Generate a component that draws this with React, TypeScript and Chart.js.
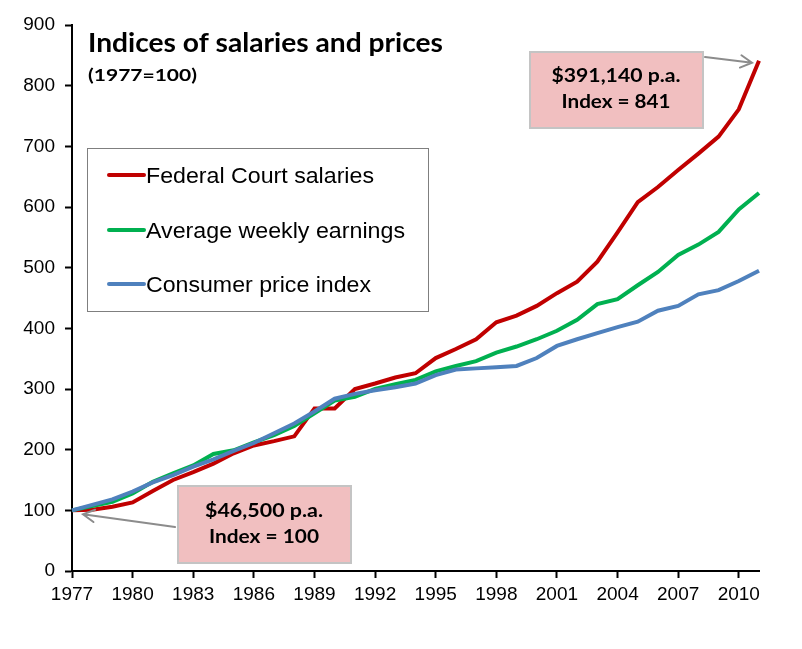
import React, { useEffect, useRef } from "react";
import { Chart, registerables } from "chart.js";

Chart.register(...registerables);

const years: string[] = [
  "1977", "1978", "1979", "1980", "1981", "1982", "1983", "1984", "1985", "1986",
  "1987", "1988", "1989", "1990", "1991", "1992", "1993", "1994", "1995", "1996",
  "1997", "1998", "1999", "2000", "2001", "2002", "2003", "2004", "2005", "2006",
  "2007", "2008", "2009", "2010", "2011",
];

const federalCourt: number[] = [
  100, 101, 106, 113, 132, 150, 163, 177, 194, 207,
  214, 222, 268, 268, 300, 309, 319, 326, 351, 366,
  382, 410, 421, 437, 458, 477, 510, 558, 608, 633,
  661, 688, 716, 761, 841,
];

const weeklyEarnings: number[] = [
  100, 107, 114, 128, 147, 161, 174, 193, 199, 212,
  224, 239, 260, 281, 287, 300, 308, 315, 329, 338,
  346, 360, 370, 382, 396, 414, 440, 448, 471, 493,
  521, 538, 559, 596, 623,
];

const cpi: number[] = [
  100, 109, 118, 131, 146, 158, 172, 184, 198, 211,
  227, 243, 263, 284, 292, 298, 303, 309, 323, 332,
  334, 336, 338, 351, 371, 382, 392, 402, 411, 429,
  437, 456, 463, 478, 495,
];

const seriesNames: string[] = [
  "Federal Court salaries",
  "Average weekly earnings",
  "Consumer price index",
];
const seriesColors: string[] = ["#C00000", "#00B050", "#4F81BD"];

const titleText = "Indices of salaries and prices";
const subtitleText = "(1977=100)";
const noteEnd: string[] = ["$391,140 p.a.", "Index = 841"];
const noteStart: string[] = ["$46,500 p.a.", "Index = 100"];

const AXIS_FONT = "'Liberation Sans', Arial, sans-serif";
const NOTE_FONT = "Lato, 'Open Sans', sans-serif";

function fitText(
  ctx: CanvasRenderingContext2D,
  text: string,
  x: number,
  y: number,
  targetW: number,
  align: "left" | "center"
) {
  const w = ctx.measureText(text).width;
  const sx = w > 0 ? targetW / w : 1;
  ctx.save();
  ctx.translate(x, y);
  ctx.scale(sx, 1);
  ctx.textAlign = align;
  ctx.fillText(text, 0, 0);
  ctx.restore();
}

function arrow(
  ctx: CanvasRenderingContext2D,
  x1: number,
  y1: number,
  x2: number,
  y2: number
) {
  const ang = Math.atan2(y2 - y1, x2 - x1);
  const len = 13;
  const spread = 0.5;
  ctx.save();
  ctx.strokeStyle = "#8C8C8C";
  ctx.lineWidth = 2;
  ctx.lineCap = "round";
  ctx.beginPath();
  ctx.moveTo(x1, y1);
  ctx.lineTo(x2, y2);
  ctx.moveTo(x2 - len * Math.cos(ang - spread), y2 - len * Math.sin(ang - spread));
  ctx.lineTo(x2, y2);
  ctx.lineTo(x2 - len * Math.cos(ang + spread), y2 - len * Math.sin(ang + spread));
  ctx.stroke();
  ctx.restore();
}

function noteBox(
  ctx: CanvasRenderingContext2D,
  x: number,
  y: number,
  w: number,
  h: number
) {
  ctx.save();
  ctx.fillStyle = "#F1BFC0";
  ctx.fillRect(x, y, w, h);
  ctx.strokeStyle = "#C4C4C4";
  ctx.lineWidth = 2;
  ctx.strokeRect(x, y, w, h);
  ctx.restore();
}

const overlayPlugin = {
  id: "overlay",
  afterDraw(chart: any) {
    const ctx: CanvasRenderingContext2D = chart.ctx;
    const xs = chart.scales.x;
    const ys = chart.scales.y;
    ctx.save();
    ctx.fillStyle = "#000";
    ctx.textBaseline = "alphabetic";

    // Title
    ctx.font = `bold 26px ${NOTE_FONT}`;
    fitText(ctx, titleText, 80, 44, 355, "left");
    ctx.font = `bold 17px ${NOTE_FONT}`;
    fitText(ctx, subtitleText, 80, 73, 109, "left");

    // Legend
    ctx.save();
    ctx.strokeStyle = "#7F7F7F";
    ctx.lineWidth = 1;
    ctx.strokeRect(79.5, 140.5, 341, 163);
    ctx.restore();
    const rows = [167, 222, 276];
    const widths = [228, 259, 225];
    seriesNames.forEach((name, i) => {
      ctx.save();
      ctx.strokeStyle = seriesColors[i];
      ctx.lineWidth = 4;
      ctx.lineCap = "round";
      ctx.beginPath();
      ctx.moveTo(101, rows[i]);
      ctx.lineTo(136, rows[i]);
      ctx.stroke();
      ctx.restore();
      ctx.font = `22px ${AXIS_FONT}`;
      ctx.fillStyle = "#000";
      fitText(ctx, name, 138, rows[i] + 8, widths[i], "left");
    });

    // Note at the end
    noteBox(ctx, 522, 44, 173, 76);
    ctx.fillStyle = "#000";
    ctx.font = `bold 19px ${NOTE_FONT}`;
    fitText(ctx, noteEnd[0], 608, 74, 129, "center");
    fitText(ctx, noteEnd[1], 608, 100, 109, "center");
    const last = years.length - 1;
    const pxEnd = xs.getPixelForValue(last);
    const pyEnd = ys.getPixelForValue(federalCourt[last]);
    arrow(ctx, 697, 49, pxEnd - 7, pyEnd + 2);

    // Note at the start
    noteBox(ctx, 170, 478, 173, 77);
    ctx.fillStyle = "#000";
    ctx.font = `bold 19px ${NOTE_FONT}`;
    fitText(ctx, noteStart[0], 256, 509, 118, "center");
    fitText(ctx, noteStart[1], 256, 535, 110, "center");
    const pxStart = xs.getPixelForValue(0);
    const pyStart = ys.getPixelForValue(federalCourt[0]);
    arrow(ctx, 167, 519, pxStart + 11, pyStart + 4);

    ctx.restore();
  },
};

export default function App() {
  const canvasRef = useRef<HTMLCanvasElement | null>(null);

  useEffect(() => {
    const canvas = canvasRef.current;
    if (!canvas) return;
    const chart = new Chart(canvas, {
      type: "line",
      data: {
        labels: years,
        datasets: [
          {
            label: seriesNames[0],
            data: federalCourt,
            borderColor: seriesColors[0],
            backgroundColor: seriesColors[0],
            borderWidth: 4,
            pointRadius: 0,
            tension: 0,
            order: 2,
          },
          {
            label: seriesNames[1],
            data: weeklyEarnings,
            borderColor: seriesColors[1],
            backgroundColor: seriesColors[1],
            borderWidth: 4,
            pointRadius: 0,
            tension: 0,
            order: 1,
          },
          {
            label: seriesNames[2],
            data: cpi,
            borderColor: seriesColors[2],
            backgroundColor: seriesColors[2],
            borderWidth: 4,
            pointRadius: 0,
            tension: 0,
            order: 0,
          },
        ],
      },
      options: {
        responsive: false,
        animation: false,
        layout: { padding: { top: 17, right: 35, bottom: 36, left: 0 } },
        plugins: {
          legend: { display: false },
          title: { display: false },
          tooltip: { enabled: false },
        },
        scales: {
          x: {
            type: "category",
            offset: false,
            border: { display: true, color: "#000", width: 2 },
            grid: {
              drawOnChartArea: false,
              drawTicks: true,
              tickLength: 7,
              tickWidth: 2,
              tickColor: (c: any) => (c.index % 3 === 0 ? "#000" : "rgba(0,0,0,0)"),
            },
            ticks: {
              autoSkip: false,
              maxRotation: 0,
              minRotation: 0,
              color: "#000",
              padding: 5,
              font: { family: AXIS_FONT, size: 19 },
              callback: (_v: any, i: number) => (i % 3 === 0 ? years[i] : ""),
            },
            afterFit: (s: any) => {
              s.height = 34;
              s.paddingLeft = 0;
              s.paddingRight = 0;
            },
          },
          y: {
            min: 0,
            max: 900,
            border: { display: true, color: "#000", width: 2 },
            grid: {
              drawOnChartArea: false,
              drawTicks: true,
              tickLength: 7,
              tickWidth: 2,
              tickColor: "#000",
            },
            ticks: {
              stepSize: 100,
              color: "#000",
              padding: 10,
              font: { family: AXIS_FONT, size: 19 },
            },
            afterFit: (s: any) => {
              s.width = 64;
              s.paddingTop = 0;
              s.paddingBottom = 0;
            },
          },
        },
      },
      plugins: [overlayPlugin],
    });
    return () => chart.destroy();
  }, []);

  return (
    <div style={{ width: 786, height: 633 }}>
      <canvas ref={canvasRef} width={786} height={633} style={{ display: "block" }} />
    </div>
  );
}
